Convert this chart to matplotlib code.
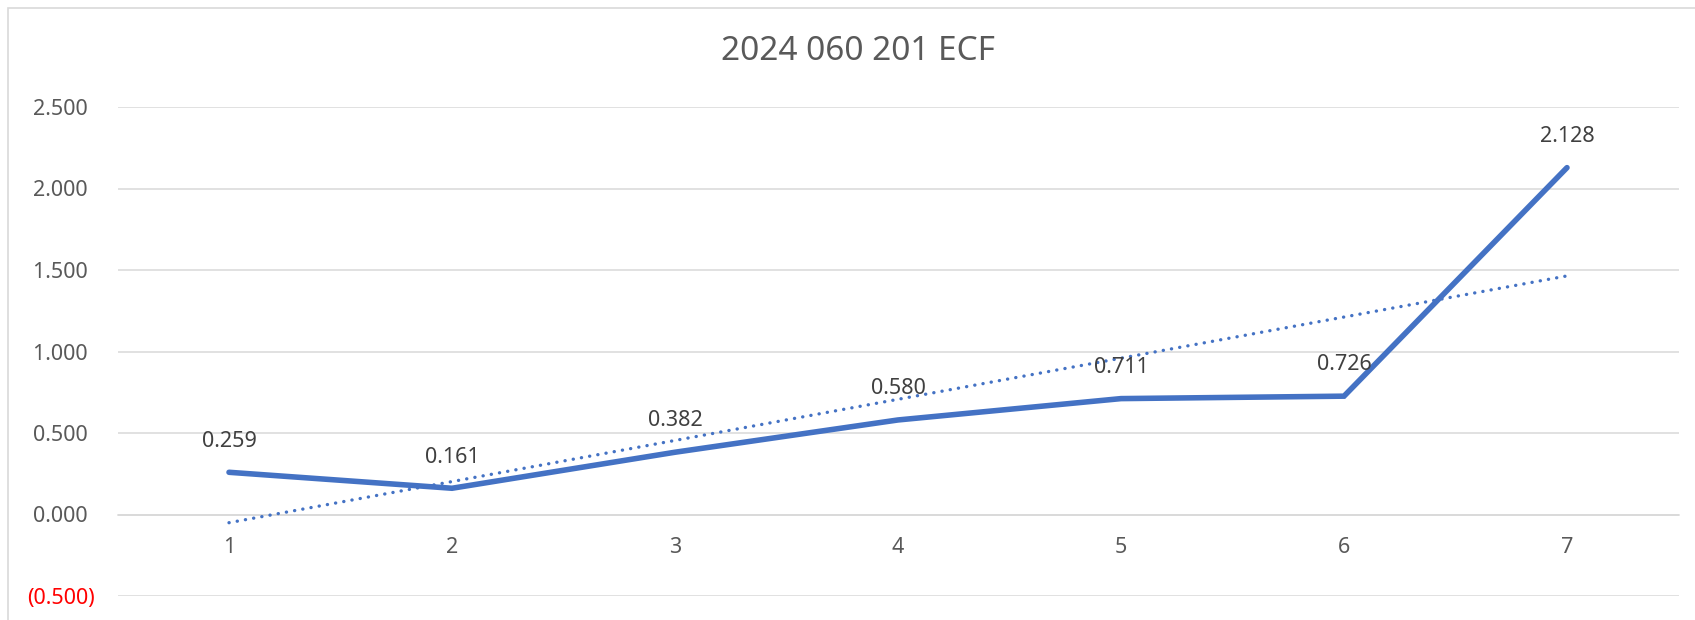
import numpy as np
import matplotlib
matplotlib.use("Agg")
import matplotlib.pyplot as plt
from matplotlib.patches import Rectangle

# ---- data ----
categories = [1, 2, 3, 4, 5, 6, 7]
values = [0.259, 0.161, 0.382, 0.580, 0.711, 0.726, 2.128]
y_ticks = [-0.5, 0.0, 0.5, 1.0, 1.5, 2.0, 2.5]
title = "2024 060 201 ECF"

plt.rcParams['font.family'] = ['Noto Sans', 'DejaVu Sans']

W, H = 1695, 620
fig = plt.figure(figsize=(W / 100, H / 100), dpi=100)
fig.patch.set_facecolor("white")

# outer chart border (cut off at right/bottom)
fig.patches.append(Rectangle((8 / W, -0.1), 2, 1.1 - 8 / H, transform=fig.transFigure,
                             fill=False, edgecolor="#D9D9D9", linewidth=1.2))

ax = fig.add_axes([117.5 / W, 1 - 596 / H, (1678.5 - 117.5) / W, (596 - 107) / H])
ax.set_xlim(0.5, 7.5)
ax.set_ylim(-0.5, 2.5)
ax.set_facecolor("white")

# grid
ax.set_yticks(y_ticks)
ax.yaxis.grid(True, color="#D9D9D9", linewidth=1.1)
ax.set_axisbelow(True)
for s in ["top", "right", "left"]:
    ax.spines[s].set_visible(False)
ax.spines["bottom"].set_position(("data", 0))
ax.spines["bottom"].set_color("#D9D9D9")
ax.spines["bottom"].set_linewidth(1.1)

def fmt(v):
    if v < 0:
        return "({:.3f})".format(abs(v))
    return "{:.3f}\u2009\u2009".format(v)

ax.set_yticklabels([fmt(v) for v in y_ticks])
for lbl, v in zip(ax.get_yticklabels(), y_ticks):
    lbl.set_color("red" if v < 0 else "#595959")
ax.tick_params(axis="y", length=0, pad=16.5, labelsize=15.5)

ax.set_xticks(categories)
ax.set_xticklabels([str(c) for c in categories])
ax.tick_params(axis="x", length=0, pad=16, labelsize=15.5, labelcolor="#595959")

color = "#4472C4"
# trendline (linear fit of the series)
coef = np.polyfit(categories, values, 1)
tx = np.array([categories[0], categories[-1]])
ax.plot(tx, np.polyval(coef, tx), color=color, linewidth=2.4,
        linestyle=(0, (0.05, 2.45)), dash_capstyle="round", zorder=3)

ax.plot(categories, values, color=color, linewidth=4.0, solid_capstyle="round",
        solid_joinstyle="miter", zorder=4)

for x, v in zip(categories, values):
    ax.annotate("{:.3f}".format(v), (x, v), xytext=(0, 22.5), textcoords="offset points",
                ha="center", va="center", fontsize=15.5, color="#404040", zorder=5)

fig.text(858 / W, 1 - 52 / H, title, ha="center", va="center", fontsize=24, color="#595959")

fig.savefig("out.png", dpi=100, facecolor="white")
